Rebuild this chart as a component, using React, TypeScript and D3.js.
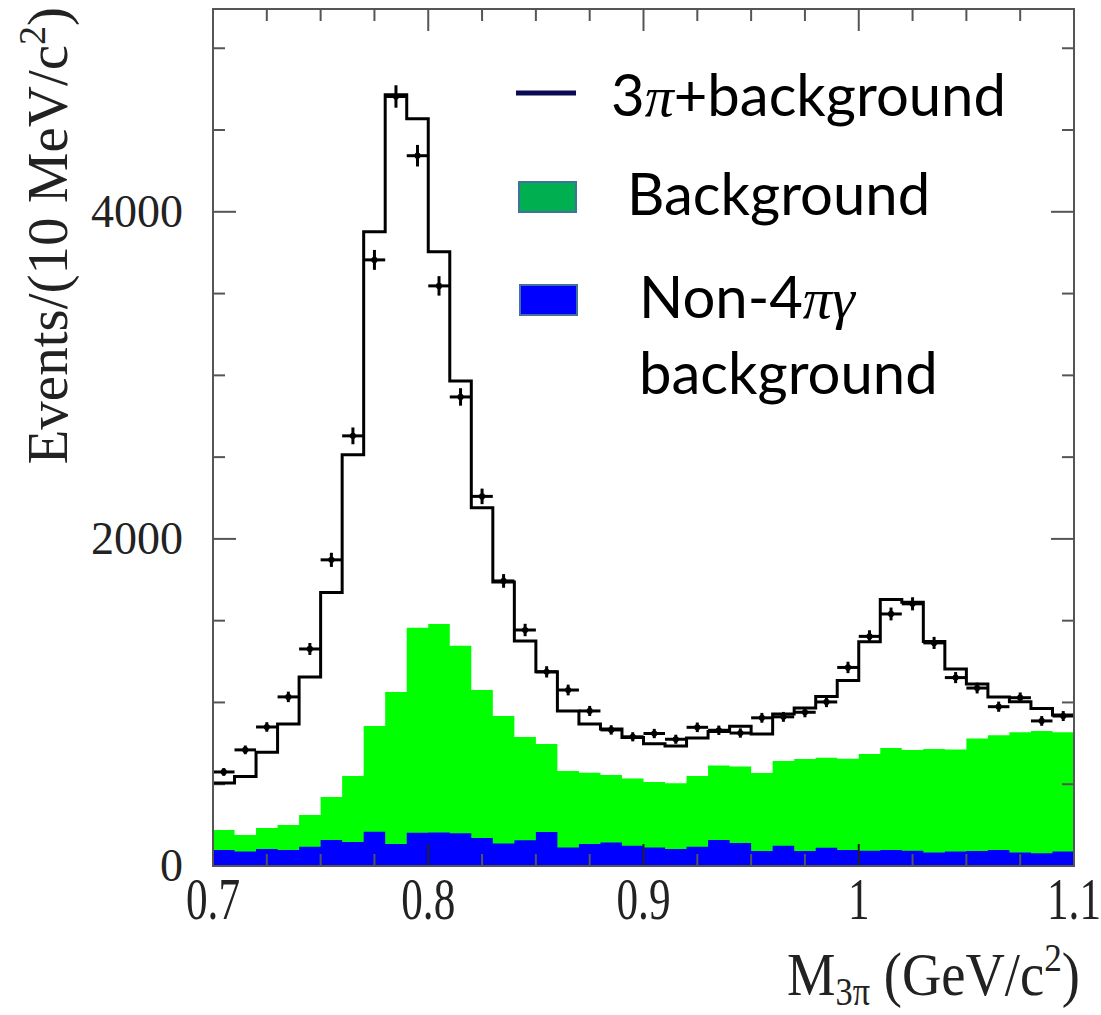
import React from 'react';
import * as d3 from 'd3';

// 10 MeV bins from 0.70 to 1.10 GeV/c^2
const binLow = d3.range(40).map(i => 0.7 + i * 0.01);

// fit: 3pi + background (black histogram)
const fitTotal = [508, 548, 695, 868, 1156, 1673, 2514, 3878, 4716, 4569, 3755, 2966, 2190, 1737, 1376, 1187, 948, 868, 838, 786,
  748, 734, 783, 822, 855, 807, 930, 966, 1036, 1134, 1371, 1630, 1613, 1372, 1205, 1113, 1033, 1005, 963, 924];

// data points
const dataCounts = [575, 710, 850, 1034, 1327, 1872, 2630, 3706, 4705, 4343, 3547, 2868, 2260, 1743, 1443, 1187, 1076, 948, 832, 790,
  810, 775, 848, 830, 813, 906, 912, 940, 1003, 1214, 1404, 1541, 1603, 1364, 1152, 1088, 974, 1029, 887, 917];

// total background (green)
const background = [220, 190, 232, 251, 312, 422, 550, 856, 1064, 1456, 1480, 1346, 1076, 917, 789, 746, 581, 570, 556, 535,
  514, 506, 550, 614, 608, 568, 642, 654, 662, 656, 685, 722, 710, 716, 712, 780, 799, 818, 826, 818];

// non-4pi-gamma background (blue)
const non4pig = [98, 88, 104, 98, 118, 159, 147, 210, 135, 204, 205, 200, 171, 138, 157, 208, 113, 135, 144, 124,
  113, 104, 118, 159, 141, 92, 124, 92, 112, 98, 94, 98, 94, 82, 88, 92, 98, 82, 78, 88];

const xTickLabels = ['0.7', '0.8', '0.9', '1', '1.1'];
const yTickLabels = ['0', '2000', '4000'];

const width = 1101;
const height = 1015;
const frame = { left: 213, right: 1074, top: 9, bottom: 866 };

const serif = '"Liberation Serif", "DejaVu Serif", serif';
const sans = 'Lato, "Open Sans", sans-serif';

export default function App() {
  const x = d3.scaleLinear().domain([0.7, 1.1]).range([frame.left, frame.right]);
  const y = d3.scaleLinear().domain([0, 5240]).range([frame.bottom, frame.top]);
  const binW = 0.01;

  const stepPts = (vals: number[]) => {
    const pts: [number, number][] = vals.map((v, i) => [binLow[i], v]);
    pts.push([binLow[binLow.length - 1] + binW, vals[vals.length - 1]]);
    return pts;
  };

  const area = d3.area<[number, number]>()
    .x(d => x(d[0]))
    .y0(y(0))
    .y1(d => y(d[1]))
    .curve(d3.curveStepAfter);

  const line = d3.line<[number, number]>()
    .x(d => x(d[0]))
    .y(d => y(d[1]))
    .curve(d3.curveStepAfter);

  // ticks
  const xMinor = d3.range(0.7, 1.1001, 0.025);
  const xMajor = d3.range(0.7, 1.1001, 0.1);
  const yMinor = d3.range(0, 5240, 500);
  const yMajor = [0, 2000, 4000];
  const tickColor = '#555';

  return (
    <svg width={width} height={height} style={{ position: 'absolute', left: 0, top: 0, background: '#fff' }}>
      {/* histograms */}
      <path d={area(stepPts(background)) || ''} fill="#00ff00" />
      <path d={area(stepPts(non4pig)) || ''} fill="#0000ff" />

      {/* ticks */}
      <g stroke={tickColor} strokeWidth={2}>
        {xMinor.map((t, i) => {
          const major = xMajor.some(m => Math.abs(m - t) < 1e-6);
          const len = major ? 22 : 12;
          return (
            <g key={'xt' + i}>
              <line x1={x(t)} x2={x(t)} y1={frame.bottom} y2={frame.bottom - len} stroke={major ? '#222' : tickColor} />
              <line x1={x(t)} x2={x(t)} y1={frame.top} y2={frame.top + len} />
            </g>
          );
        })}
        {yMinor.map((t, i) => {
          const major = yMajor.includes(t);
          const len = major ? 23 : 12;
          return (
            <g key={'yt' + i}>
              <line x1={frame.left} x2={frame.left + len} y1={y(t)} y2={y(t)} />
              <line x1={frame.right} x2={frame.right - len} y1={y(t)} y2={y(t)} />
            </g>
          );
        })}
      </g>

      {/* fit histogram */}
      <path d={line(stepPts(fitTotal)) || ''} fill="none" stroke="#000" strokeWidth={3} />

      {/* data points */}
      <g stroke="#000" strokeWidth={3}>
        {dataCounts.map((v, i) => {
          const cx = x(binLow[i] + binW / 2);
          const err = Math.sqrt(v);
          return (
            <g key={'d' + i}>
              <line x1={x(binLow[i])} x2={x(binLow[i] + binW)} y1={y(v)} y2={y(v)} />
              <line x1={cx} x2={cx} y1={y(v - err)} y2={y(v + err)} />
              <circle cx={cx} cy={y(v)} r={1.6} fill="#000" />
            </g>
          );
        })}
      </g>

      {/* frame */}
      <rect x={frame.left} y={frame.top} width={frame.right - frame.left} height={frame.bottom - frame.top}
        fill="none" stroke={tickColor} strokeWidth={2} />

      {/* x tick labels */}
      <g fontFamily={serif} fontSize={60} fill="#222">
        {xMajor.map((t, i) => (
          <text key={'xl' + i} textAnchor="middle" transform={`translate(${x(t)},919) scale(0.72,1)`}>
            {xTickLabels[i]}
          </text>
        ))}
      </g>

      {/* y tick labels */}
      <g fontFamily={serif} fontSize={46} fill="#222">
        {yMajor.map((t, i) => (
          <text key={'yl' + i} x={183} y={y(t) + 15} textAnchor="end">{yTickLabels[i]}</text>
        ))}
      </g>

      {/* axis titles */}
      <text fontFamily={serif} fontSize={57} fill="#222" textAnchor="end" transform="translate(67,7) rotate(-90)">
        Events/(10 MeV/c<tspan dy={-22} fontSize={38}>2</tspan><tspan dy={22}>)</tspan>
      </text>
      <text fontFamily={serif} fontSize={62} fill="#222" textAnchor="end" transform="translate(1080,995) scale(0.88,1)">
        M<tspan dy={10} fontSize={39}>3π</tspan><tspan dy={-10}> (GeV/c</tspan><tspan dy={-24} fontSize={40}>2</tspan><tspan dy={24}>)</tspan>
      </text>

      {/* legend */}
      <line x1={516} x2={576} y1={93} y2={93} stroke="#0a0a55" strokeWidth={5} />
      <text x={611} y={116} fontFamily={sans} fontSize={58} fill="#000">
        3<tspan fontFamily={serif} fontStyle="italic">π</tspan>+background
      </text>

      <rect x={519} y={182} width={57} height={30} fill="#00b050" stroke="#41719c" strokeWidth={2} />
      <text x={627} y={215} fontFamily={sans} fontSize={58} fill="#000">Background</text>

      <rect x={520} y={285} width={57} height={30} fill="#0000ff" stroke="#41719c" strokeWidth={2} />
      <text x={639} y={318} fontFamily={sans} fontSize={58} fill="#000">
        Non-4<tspan fontFamily={serif} fontStyle="italic">πγ</tspan>
      </text>
      <text x={639} y={394} fontFamily={sans} fontSize={58} fill="#000">background</text>
    </svg>
  );
}
